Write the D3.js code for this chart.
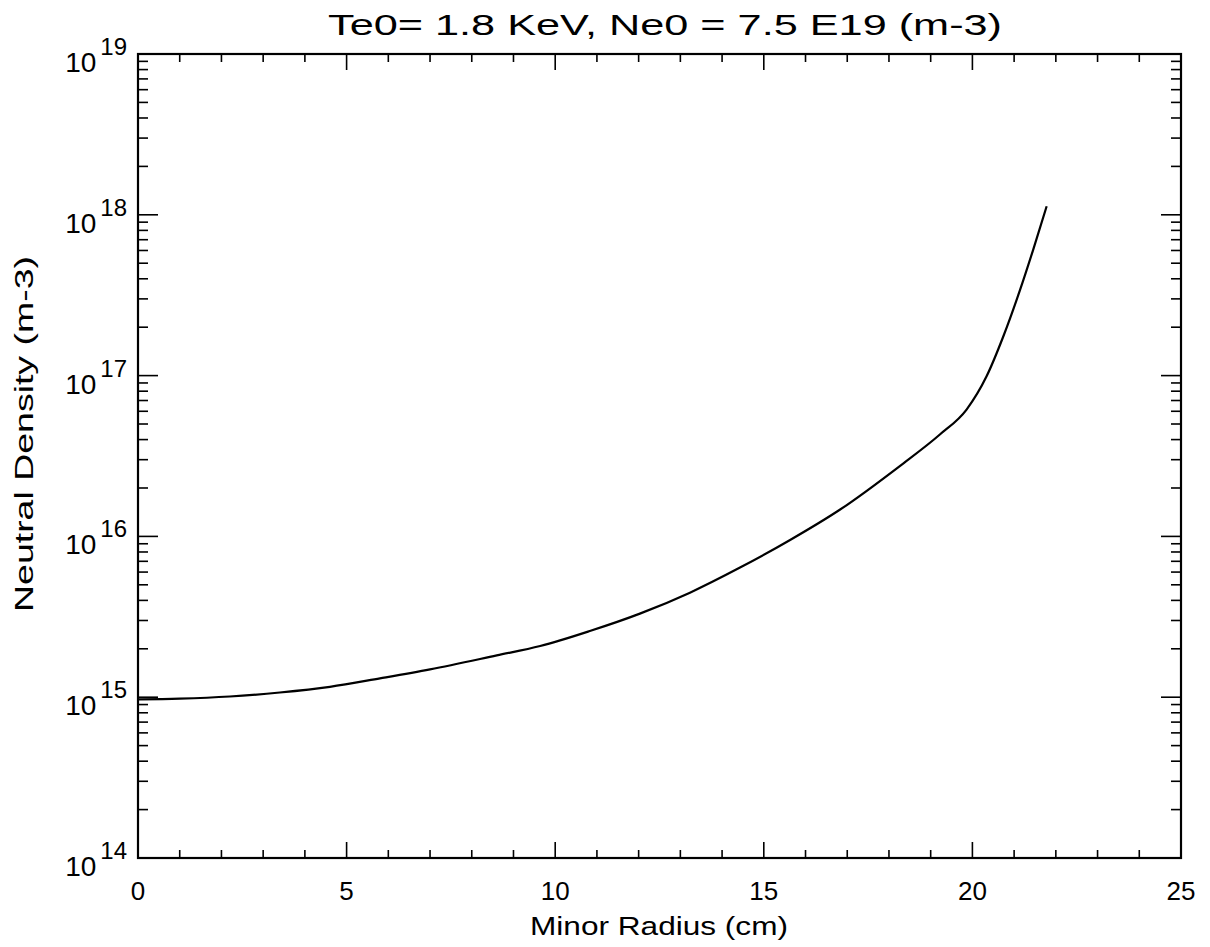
<!DOCTYPE html>
<html>
<head>
<meta charset="utf-8">
<script src="https://cdn.jsdelivr.net/npm/d3@7"></script>
<style>
  html, body { margin: 0; padding: 0; background: #fff; }
  svg { display: block; }
  text { font-family: "Liberation Sans", "DejaVu Sans", sans-serif; fill: #000; }
</style>
</head>
<body>
<svg id="chart" width="1210" height="947"></svg>
<script>
// ---- data ----
const radius  = [0, 1, 2.2, 3.4, 4.6, 5.8, 7.0, 8.6, 9.64, 10.83, 12.03, 13.23, 14.43, 15.63, 16.83, 18.26, 19.22, 19.86, 20.34, 20.74, 21.14, 21.46, 21.78];
const density = [9.7e14, 9.8e14, 1.01e15, 1.07e15, 1.16e15, 1.31e15, 1.49e15, 1.82e15, 2.08e15, 2.58e15, 3.31e15, 4.47e15, 6.4e15, 9.5e15, 1.47e16, 2.74e16, 4.3e16, 6.15e16, 9.9e16, 1.75e17, 3.4e17, 6.1e17, 1.13e18];
const xTicks = [0, 5, 10, 15, 20, 25];
const yExponents = [14, 15, 16, 17, 18, 19];
const titleText = "Te0= 1.8 KeV, Ne0 = 7.5 E19 (m-3)";
const xLabel = "Minor Radius (cm)";
const yLabel = "Neutral Density (m-3)";

(function () {
// ---- layout ----
const pL = 138, pR = 1181, pT = 54, pB = 858;
const svg = d3.select("#chart");

const x = d3.scaleLinear().domain([0, 25]).range([pL, pR]);
const y = d3.scaleLog().domain([1e14, 1e19]).range([pB, pT]);

const g = svg.append("g");

// minor / major ticks
const xMinor = d3.range(0, 26, 1).filter(v => v % 5 !== 0);
const yMajor = yExponents.map(e => Math.pow(10, e));
const yMinor = [];
yExponents.slice(0, -1).forEach(e => { for (let m = 2; m <= 9; m++) yMinor.push(m * Math.pow(10, e)); });

const tickStyle = sel => sel.attr("stroke", "#000").attr("stroke-width", 1.6);

// x ticks bottom & top
xTicks.forEach(v => {
  g.append("line").attr("x1", x(v)).attr("x2", x(v)).attr("y1", pB).attr("y2", pB - 16).call(tickStyle);
  g.append("line").attr("x1", x(v)).attr("x2", x(v)).attr("y1", pT).attr("y2", pT + 16).call(tickStyle);
});
xMinor.forEach(v => {
  g.append("line").attr("x1", x(v)).attr("x2", x(v)).attr("y1", pB).attr("y2", pB - 8).call(tickStyle);
  g.append("line").attr("x1", x(v)).attr("x2", x(v)).attr("y1", pT).attr("y2", pT + 8).call(tickStyle);
});
// y ticks left & right
yMajor.forEach(v => {
  g.append("line").attr("x1", pL).attr("x2", pL + 20).attr("y1", y(v)).attr("y2", y(v)).call(tickStyle);
  g.append("line").attr("x1", pR).attr("x2", pR - 20).attr("y1", y(v)).attr("y2", y(v)).call(tickStyle);
});
yMinor.forEach(v => {
  g.append("line").attr("x1", pL).attr("x2", pL + 10).attr("y1", y(v)).attr("y2", y(v)).call(tickStyle);
  g.append("line").attr("x1", pR).attr("x2", pR - 10).attr("y1", y(v)).attr("y2", y(v)).call(tickStyle);
});

// frame
g.append("rect").attr("x", pL).attr("y", pT).attr("width", pR - pL).attr("height", pB - pT)
  .attr("fill", "none").attr("stroke", "#000").attr("stroke-width", 2.2);

// x tick labels
xTicks.forEach(v => {
  g.append("text").attr("x", x(v)).attr("y", 900).attr("text-anchor", "middle")
    .attr("font-size", 26).text(v);
});

// y tick labels: 10^n
yExponents.forEach(e => {
  const t = g.append("text").attr("x", 127).attr("y", y(Math.pow(10, e)) + 18).attr("text-anchor", "end");
  t.append("tspan").attr("font-size", 28).text("10");
  t.append("tspan").attr("font-size", 24).attr("dx", 4).attr("dy", -17).text(e);
});

// line
const line = d3.line().x((d, i) => x(radius[i])).y(d => y(d)).curve(d3.curveMonotoneX);
g.append("path").datum(density).attr("d", line)
  .attr("fill", "none").attr("stroke", "#000").attr("stroke-width", 2.2);

// title
svg.append("text").attr("x", 328).attr("y", 35).attr("font-size", 29)
  .attr("textLength", 674).attr("lengthAdjust", "spacingAndGlyphs").text(titleText);

// x axis label
svg.append("text").attr("x", 530).attr("y", 935).attr("font-size", 25)
  .attr("textLength", 258).attr("lengthAdjust", "spacingAndGlyphs").text(xLabel);

// y axis label
svg.append("text").attr("transform", "translate(33,612) rotate(-90)").attr("font-size", 26)
  .attr("textLength", 356).attr("lengthAdjust", "spacingAndGlyphs").text(yLabel);
})();
</script>
</body>
</html>
